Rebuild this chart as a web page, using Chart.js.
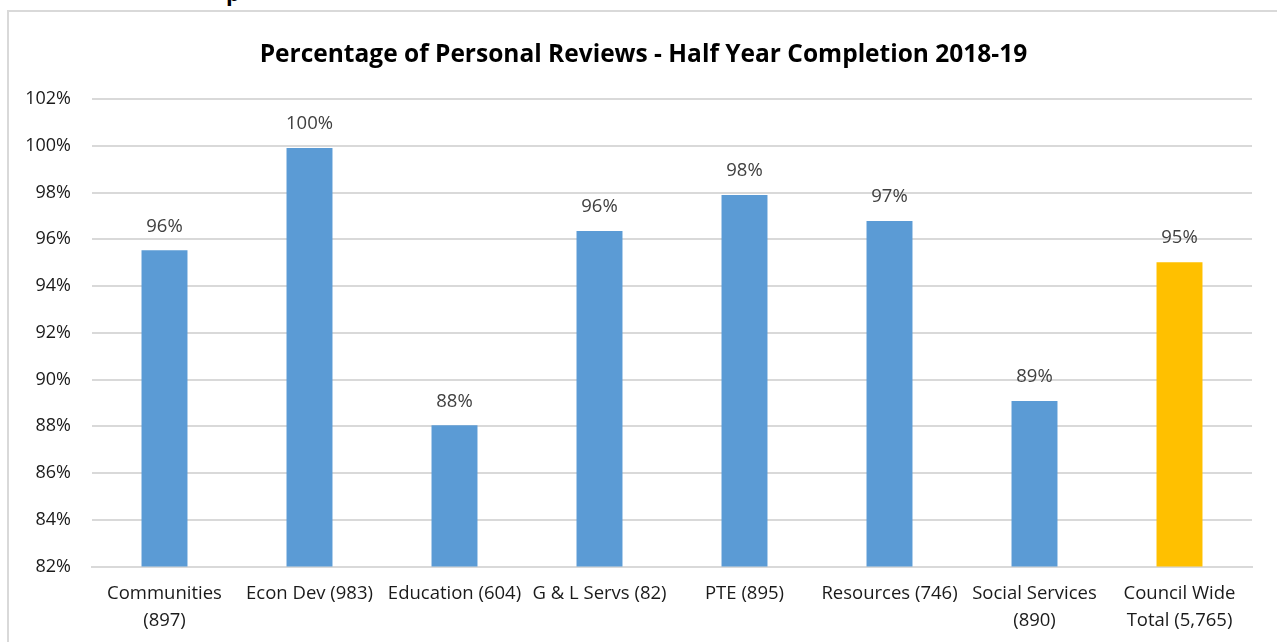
<!DOCTYPE html>
<html>
<head>
<meta charset="utf-8">
<script src="https://cdn.jsdelivr.net/npm/chart.js@4/dist/chart.umd.min.js"></script>
<style>
  html, body { margin: 0; padding: 0; background: #fff; }
  body { width: 1277px; height: 642px; position: relative; overflow: hidden; }
  #frame { position: absolute; left: 7px; top: 10px; width: 1300px; height: 700px;
           border-left: 2px solid #d9d9d9; border-top: 2px solid #d9d9d9; }
  #cut { position: absolute; left: 226px; top: -23px; font: bold 22px "Open Sans", sans-serif; color: #000; }
  #title { position: absolute; left: 0; top: 38px; width: 1287px; text-align: center;
           font: bold 24.5px/29px "Open Sans", sans-serif; color: #000; white-space: nowrap; }
  #wrap { position: absolute; left: 0; top: 0; width: 1277px; height: 642px; }
</style>
</head>
<body>
<div id="cut">p</div>
<div id="frame"></div>
<div id="wrap"><canvas id="myChart"></canvas></div>
<div id="title">Percentage of Personal Reviews - Half Year Completion 2018-19</div>
<script>
// values
var categories = [
  ['Communities', '(897)'],
  'Econ Dev (983)',
  'Education (604)',
  'G & L Servs (82)',
  'PTE (895)',
  'Resources (746)',
  ['Social Services', '(890)'],
  ['Council Wide', 'Total (5,765)']
];
var completion = [95.53, 99.9, 88.04, 96.35, 97.89, 96.78, 89.08, 95.02];
var barColours = ['#5b9bd5', '#5b9bd5', '#5b9bd5', '#5b9bd5', '#5b9bd5', '#5b9bd5', '#5b9bd5', '#ffc000'];
var yMin = 82, yMax = 102, yStep = 2;

var fontFamily = '"Open Sans", Lato, sans-serif';

// simple value labels above each bar
var valueLabels = {
  id: 'valueLabels',
  afterDatasetsDraw: function (chart) {
    var ctx = chart.ctx;
    var meta = chart.getDatasetMeta(0);
    ctx.save();
    ctx.font = '18.5px ' + fontFamily;
    ctx.fillStyle = '#404040';
    ctx.textAlign = 'center';
    ctx.textBaseline = 'middle';
    meta.data.forEach(function (bar, i) {
      ctx.fillText(Math.round(completion[i]) + '%', bar.x, bar.y - 24);
    });
    ctx.restore();
  }
};

var myChart = new Chart('myChart', {
  type: 'bar',
  data: {
    labels: categories,
    datasets: [{
      label: 'Completion',
      data: completion,
      backgroundColor: barColours,
      borderWidth: 0,
      categoryPercentage: 1,
      barPercentage: 0.317
    }]
  },
  options: {
    responsive: true,
    maintainAspectRatio: false,
    animation: false,
    layout: { padding: { left: 0, right: 25, top: 99, bottom: 0 } },
    plugins: {
      legend: { display: false },
      tooltip: { enabled: false },
      title: { display: false }
    },
    scales: {
      x: {
        grid: { display: false, drawTicks: false },
        border: { color: '#d9d9d9', width: 2 },
        ticks: {
          color: '#1a1a1a',
          font: { family: fontFamily, size: 18.5, lineHeight: 1.46 },
          padding: 14,
          maxRotation: 0,
          autoSkip: false
        },
        afterFit: function (scale) { scale.height = 75.5; }
      },
      y: {
        min: yMin,
        max: yMax,
        grid: { color: '#d9d9d9', lineWidth: 2, drawTicks: false },
        border: { display: false },
        ticks: {
          stepSize: yStep,
          color: '#1a1a1a',
          font: { family: fontFamily, size: 18 },
          padding: 21,
          callback: function (v) { return v + '%'; }
        },
        afterFit: function (scale) { scale.width = 92; }
      }
    }
  },
  plugins: [valueLabels]
});
</script>
</body>
</html>
